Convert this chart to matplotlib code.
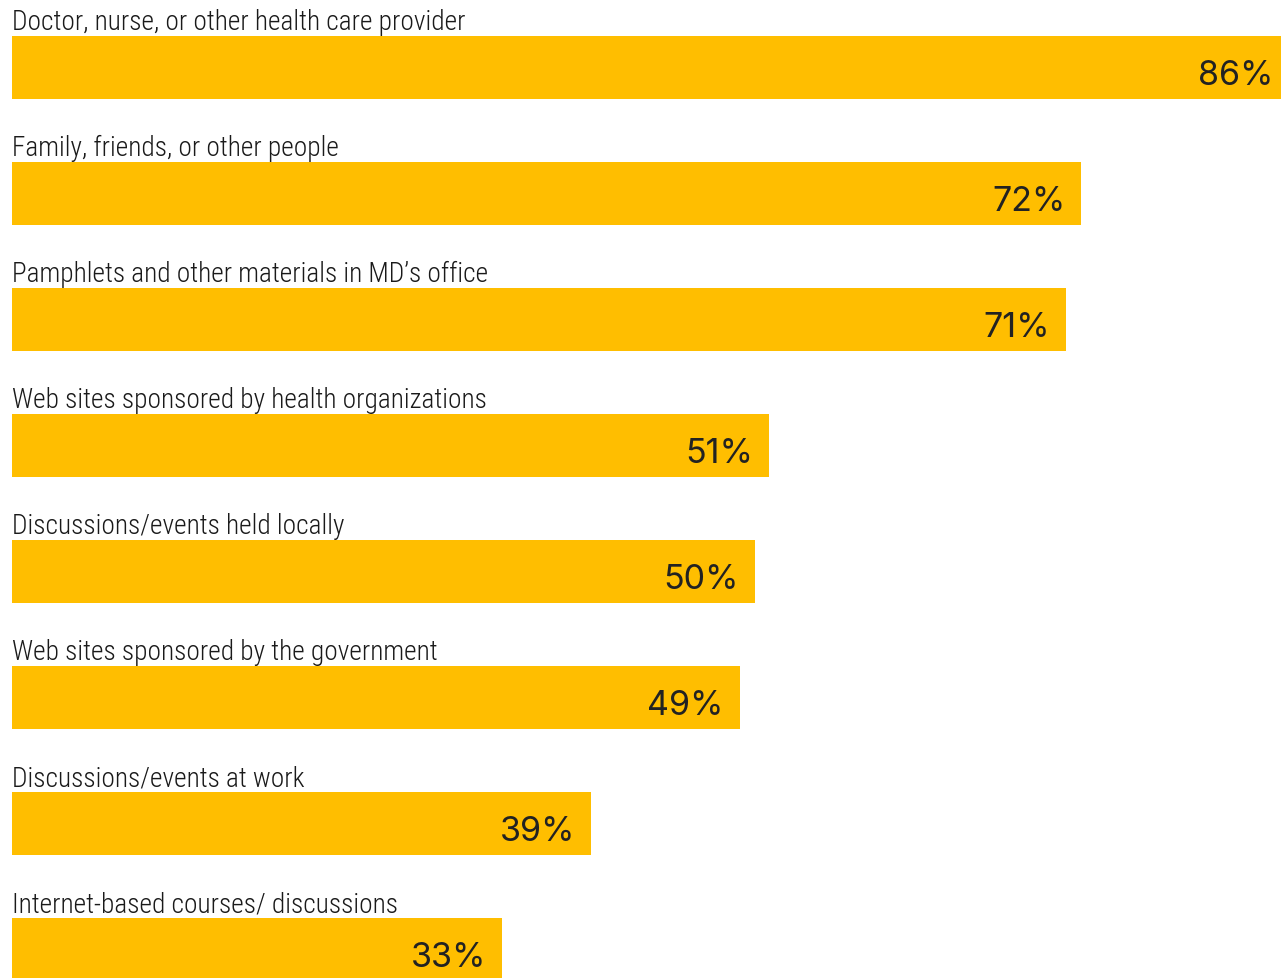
import matplotlib
matplotlib.use("Agg")
import matplotlib.pyplot as plt
from matplotlib.transforms import offset_copy

categories = [
    "Doctor, nurse, or other health care provider",
    "Family, friends, or other people",
    "Pamphlets and other materials in MD\u2019s office",
    "Web sites sponsored by health organizations",
    "Discussions/events held locally",
    "Web sites sponsored by the government",
    "Discussions/events at work",
    "Internet-based courses/ discussions",
]
values = [86, 72, 71, 51, 50, 49, 39, 33]

fig = plt.figure(figsize=(12.81, 9.79), dpi=100)
ax = fig.add_axes([0, 0, 1, 1])
ypos = list(range(len(values)))
ax.barh(ypos, values, height=0.5, color="#FFBE00", left=0)
ax.set_xlim(-0.81, 85.45)
ax.set_ylim(7.226, -0.5437)
ax.axis("off")

for y, v, c in zip(ypos, values, categories):
    ax.text(0.0, y - 0.3056, c, ha="left", va="baseline",
            fontsize=19.7, family=["Roboto Condensed", "DejaVu Sans"],
            fontweight=300, color="#1a1a1a")
    tr = offset_copy(ax.transData, fig=fig, x=-16, y=0, units="dots")
    ax.text(v, y + 0.131, f"{v}%", ha="right", va="baseline",
            fontsize=24.5, family=["Inter", "DejaVu Sans"],
            color="#222222", transform=tr)

fig.savefig("out.png", dpi=100)
